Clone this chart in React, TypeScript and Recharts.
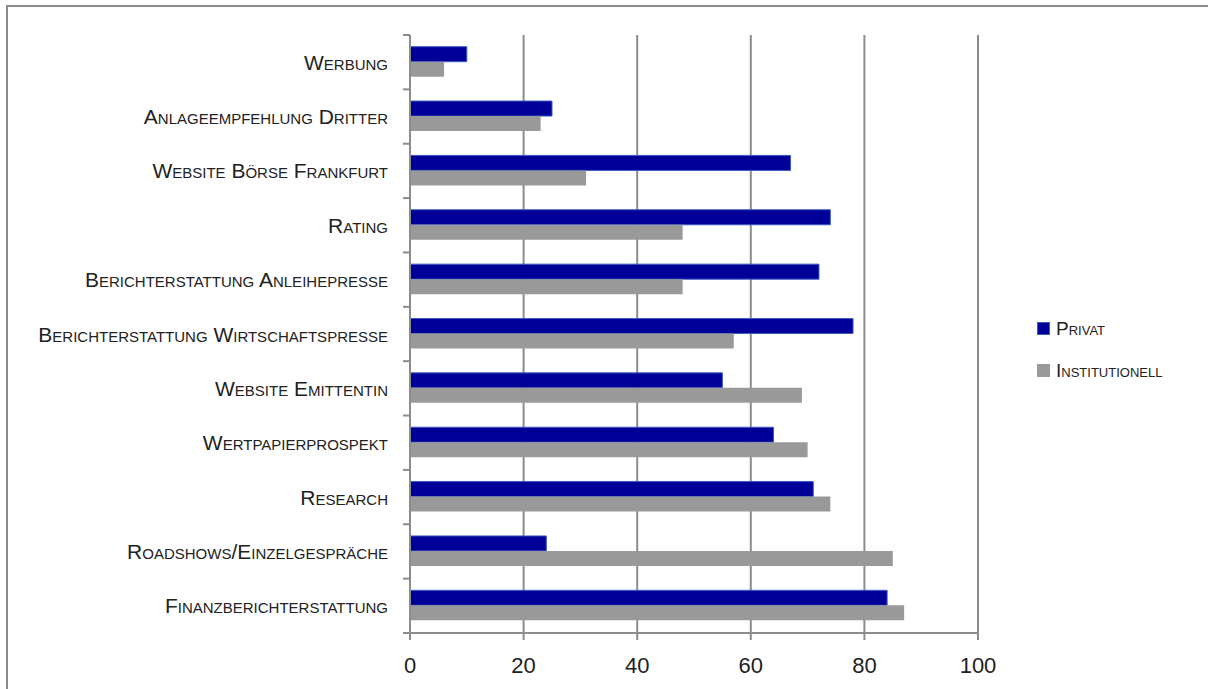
import React from 'react';
import { Bar, BarChart, CartesianGrid, Legend, XAxis, YAxis } from 'recharts';

const categories = [
  'Werbung',
  'Anlageempfehlung Dritter',
  'Website Börse Frankfurt',
  'Rating',
  'Berichterstattung Anleihepresse',
  'Berichterstattung Wirtschaftspresse',
  'Website Emittentin',
  'Wertpapierprospekt',
  'Research',
  'Roadshows/Einzelgespräche',
  'Finanzberichterstattung',
];
const privat = [10, 25, 67, 74, 72, 78, 55, 64, 71, 24, 84];
const institutionell = [6, 23, 31, 48, 48, 57, 69, 70, 74, 85, 87];
const xTicks = [0, 20, 40, 60, 80, 100];
const seriesOrder = ['privat', 'institutionell'];

const data = categories.map((name, i) => ({ name, privat: privat[i], institutionell: institutionell[i] }));

const FONT = '"Liberation Sans", Arial, sans-serif';
const AXIS = '#8c8c8c';
const BLUE = '#000099';
const GREY = '#999999';

const TICK_SIZE = 7;
const TICK_MARGIN = 15;

const CategoryTick = (props: any) => {
  const { x, y, payload, index, visibleTicksCount } = props;
  const half = payload?.offset ?? 27;
  const axisX = x + TICK_SIZE + TICK_MARGIN;
  const last = index === visibleTicksCount - 1;
  return (
    <g>
      <line x1={axisX - TICK_SIZE} x2={axisX} y1={y - half} y2={y - half} stroke={AXIS} strokeWidth={2} />
      {last && <line x1={axisX - TICK_SIZE} x2={axisX} y1={y + half} y2={y + half} stroke={AXIS} strokeWidth={2} />}
      <text
        x={x}
        y={y}
        textAnchor="end"
        dominantBaseline="central"
        fill="#222"
        fontSize={21}
        fontFamily={FONT}
        style={{ fontVariant: 'small-caps' }}
      >
        {payload.value}
      </text>
    </g>
  );
};

const LegendBox = ({ payload }: any) => {
  const items = [...(payload || [])].sort(
    (a: any, b: any) => seriesOrder.indexOf(a.dataKey) - seriesOrder.indexOf(b.dataKey)
  );
  return (
    <div style={{ fontFamily: FONT }}>
      {items.map((p: any) => (
        <div key={p.value} style={{ display: 'flex', alignItems: 'center', height: 21, marginBottom: 21 }}>
          <span
            style={{
              display: 'inline-block',
              width: 11,
              height: 11,
              background: p.color,
              border: p.dataKey === 'privat' ? '1px solid #3a5bc0' : `1px solid ${GREY}`,
              marginRight: 6,
            }}
          />
          <span style={{ fontSize: 19, color: '#222', fontVariant: 'small-caps' }}>{p.value}</span>
        </div>
      ))}
    </div>
  );
};

const App = () => {
  return (
    <div style={{ position: 'absolute', left: 0, top: 0, width: 1208, height: 689, background: '#fff' }}>
      <div
        style={{
          position: 'absolute',
          left: 6,
          top: 5,
          width: 1210,
          height: 700,
          borderTop: `2px solid ${AXIS}`,
          borderLeft: `2px solid ${AXIS}`,
        }}
      />
      <div style={{ position: 'absolute', left: 0, top: 0 }}>
        <BarChart
          width={1208}
          height={689}
          data={data}
          layout="vertical"
          margin={{ top: 35, right: 230, bottom: 16, left: 10 }}
          barCategoryGap="21.5%"
          barGap={0}
        >
          <CartesianGrid horizontal={false} stroke={AXIS} strokeWidth={2} />
          <XAxis
            type="number"
            domain={[0, 100]}
            ticks={xTicks}
            height={40}
            tickSize={TICK_SIZE}
            tickMargin={17}
            axisLine={{ stroke: AXIS, strokeWidth: 2 }}
            tickLine={{ stroke: AXIS, strokeWidth: 2 }}
            tick={{ fill: '#222', fontSize: 22, fontFamily: FONT }}
          />
          <YAxis
            type="category"
            dataKey="name"
            width={400}
            tickSize={TICK_SIZE}
            tickMargin={TICK_MARGIN}
            tickLine={false}
            axisLine={{ stroke: AXIS, strokeWidth: 2 }}
            tick={<CategoryTick />}
            interval={0}
          />
          <Legend
            layout="vertical"
            align="center"
            verticalAlign="middle"
            content={<LegendBox />}
            wrapperStyle={{ position: 'absolute', left: 1037, top: 318, width: 170 }}
          />
          <Bar dataKey="privat" name="Privat" fill={BLUE} stroke="#3a5bc0" strokeWidth={1} isAnimationActive={false} />
          <Bar dataKey="institutionell" name="Institutionell" fill={GREY} isAnimationActive={false} />
        </BarChart>
      </div>
    </div>
  );
};

export default App;
